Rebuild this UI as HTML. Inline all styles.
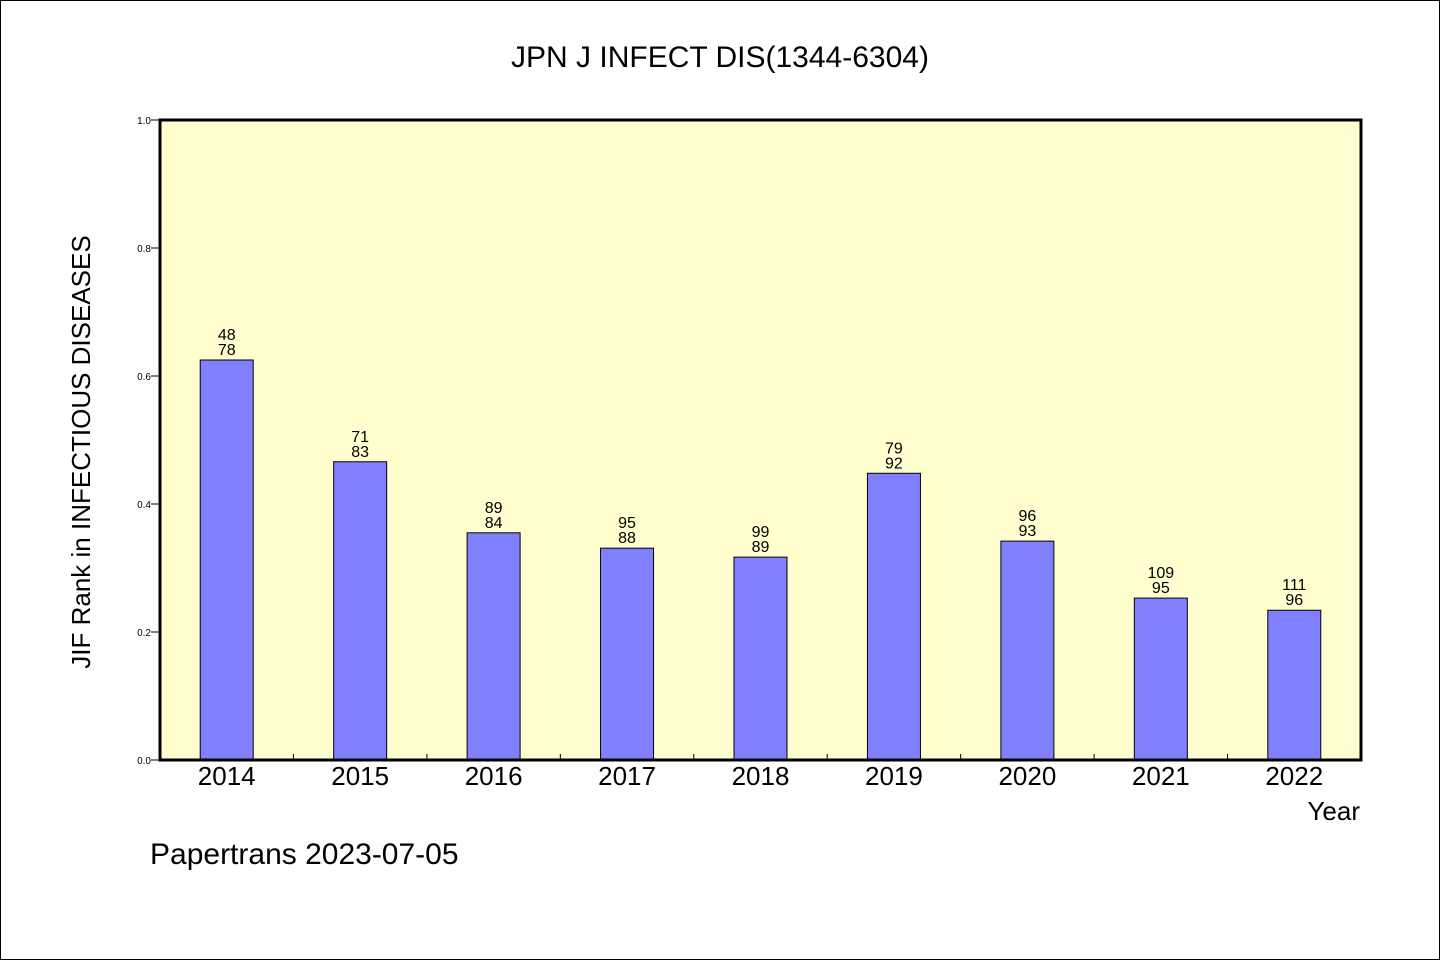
<!DOCTYPE html>
<html><head><meta charset="utf-8"><style>
html,body{margin:0;padding:0;background:#fff}
svg text{font-family:"WenQuanYi Zen Hei","Liberation Sans",sans-serif;fill:#000}
</style></head><body>
<svg width="1440" height="960" viewBox="0 0 1440 960">
<rect x="0.5" y="0.5" width="1439" height="959" fill="#fff" stroke="#000"/>
<text x="720" y="67" font-size="30" text-anchor="middle">JPN J INFECT DIS(1344-6304)</text>
<rect x="160" y="120" width="1201" height="640" fill="#ffffd0"/>
<g id="bars"></g>
<g id="yticks"></g>
<g id="xticks"></g>
<rect x="160" y="120" width="1201" height="640" fill="none" stroke="#000" stroke-width="3"/>
<text transform="translate(90,452) rotate(-90)" font-size="26" text-anchor="middle">JIF Rank in INFECTIOUS DISEASES</text>
<text x="1360" y="820" font-size="26" text-anchor="end">Year</text>
<text x="150" y="864" font-size="30">Papertrans 2023-07-05</text>
</svg>
<script>
const categories=["2014","2015","2016","2017","2018","2019","2020","2021","2022"];
const values=[0.625,0.466,0.355,0.331,0.317,0.448,0.342,0.253,0.234];
const rankLabels=["48","71","89","95","99","79","96","109","111"];
const totalLabels=["78","83","84","88","89","92","93","95","96"];
const yTicks=[0,0.2,0.4,0.6,0.8,1.0];
const X0=160,X1=1361,Y0=760,Y1=120;
const bw=(X1-X0)/categories.length;
const xs=i=>X0+bw*(i+0.5);
const ys=v=>Y0-(Y0-Y1)*v;
const NS="http://www.w3.org/2000/svg";
function mk(t,a,p){const e=document.createElementNS(NS,t);for(const k in a)e.setAttribute(k,a[k]);p.appendChild(e);return e;}
const bars=document.getElementById('bars'),yt=document.getElementById('yticks'),xt=document.getElementById('xticks');
categories.forEach((c,i)=>{
  const cx=xs(i),top=ys(values[i]);
  const r=mk('rect',{x:cx-26.5,y:top,width:53,height:Y0-top,fill:'#8080ff',stroke:'#000','stroke-width':1},bars);
  
  
  const t1=mk('text',{x:cx,y:top-20,'font-size':16,'text-anchor':'middle'},bars);t1.textContent=rankLabels[i];
  
  
  const t2=mk('text',{x:cx,y:top-5,'font-size':16,'text-anchor':'middle'},bars);t2.textContent=totalLabels[i];
  
  
  const xl=mk('text',{x:cx,y:785,'font-size':26,'text-anchor':'middle'},xt);xl.textContent=c;
  
  
  if(i>0){const l=mk('line',{x1:X0+bw*i,x2:X0+bw*i,y1:Y0,y2:Y0-6,stroke:'#000'},xt);
  
  }
});
yTicks.forEach(v=>{
  const y=ys(v);
  const l=mk('line',{x1:151,x2:160,y1:y,y2:y,stroke:'#000'},yt);
  
  
  const t=mk('text',{x:151,y:y+4,'font-size':10,'text-anchor':'end'},yt);t.textContent=v.toFixed(1);
  
  
});
</script>
</body></html>
